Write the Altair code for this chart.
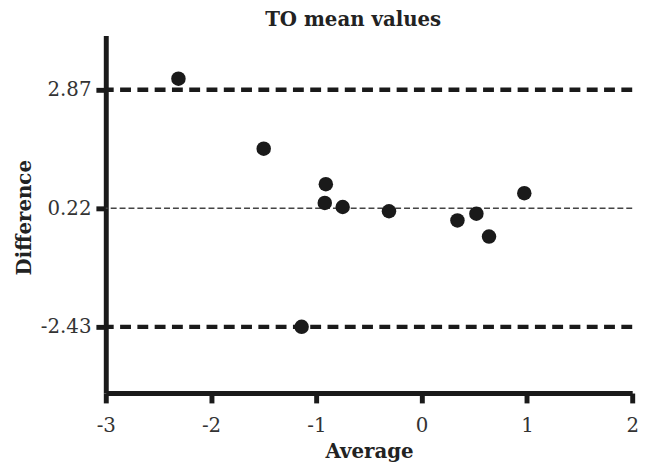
import altair as alt
import pandas as pd

average = [-2.31, -1.50, -0.91, -0.92, -0.75, -0.31, 0.34, 0.52, 0.64, 0.975, -1.14]
difference = [3.12, 1.555, 0.76, 0.34, 0.25, 0.155, -0.05, 0.10, -0.41, 0.56, -2.43]

mean_diff = 0.22
upper_loa = 2.87
lower_loa = -2.43

y_ticks = [lower_loa, mean_diff, upper_loa]
x_ticks = [-3, -2, -1, 0, 1, 2]

pts = pd.DataFrame({"Average": average, "Difference": difference})
limits = pd.DataFrame({"v": [upper_loa, lower_loa]})
mean_df = pd.DataFrame({"v": [mean_diff]})

FONT = "DejaVu Serif"
INK = "#1a1a1a"
HYPHEN = "replace(datum.label, '\u2212', '-')"

x_scale = alt.Scale(domain=[-3, 2], nice=False, zero=False)
y_scale = alt.Scale(domain=[-3.91, 4.085], nice=False, zero=False)

x_axis = alt.Axis(
    values=x_ticks, format="d", grid=False, title="Average", labelExpr=HYPHEN,
    domainColor=INK, domainWidth=5, tickColor=INK, tickWidth=5, tickSize=10,
    labelFont=FONT, labelFontSize=20, labelColor="#333333", labelPadding=13,
    titleFont=FONT, titleFontSize=20, titleFontWeight="bold", titleColor="#222222",
    titlePadding=6, labelFlush=False,
)
y_axis = alt.Axis(
    values=y_ticks, format=".2f", grid=False, title="Difference", labelExpr=HYPHEN,
    domainColor=INK, domainWidth=5, tickColor=INK, tickWidth=5, tickSize=10,
    labelFont=FONT, labelFontSize=20, labelColor="#333333", labelPadding=5,
    titleFont=FONT, titleFontSize=20, titleFontWeight="bold", titleColor="#222222",
    titleX=-82, titleY=184, titleAngle=270, titleAlign="center", titleBaseline="middle",
)

points = alt.Chart(pts).mark_circle(size=215, color=INK, opacity=1).encode(
    x=alt.X("Average:Q", scale=x_scale, axis=x_axis),
    y=alt.Y("Difference:Q", scale=y_scale, axis=y_axis),
)

limit_lines = alt.Chart(limits).mark_rule(
    color=INK, strokeWidth=4.5, strokeDash=[11, 6.5]
).encode(y=alt.Y("v:Q", scale=y_scale))

mean_line = alt.Chart(mean_df).mark_rule(
    color="#444444", strokeWidth=1.5, strokeDash=[6, 3]
).encode(y=alt.Y("v:Q", scale=y_scale))

chart = alt.layer(limit_lines, mean_line, points).properties(
    width=533,
    height=362,
    background="white",
    title=alt.TitleParams(
        "TO mean values", font=FONT, fontSize=20, fontWeight="bold",
        color="#222222", anchor="middle", frame="group", dx=-16, offset=6,
    ),
    autosize=alt.AutoSizeParams(type="none"),
    padding={"left": 99, "top": 25, "right": 17, "bottom": 69},
).configure_view(stroke=None)

chart.save("out.html", embed_options={"renderer": "svg", "actions": False})
